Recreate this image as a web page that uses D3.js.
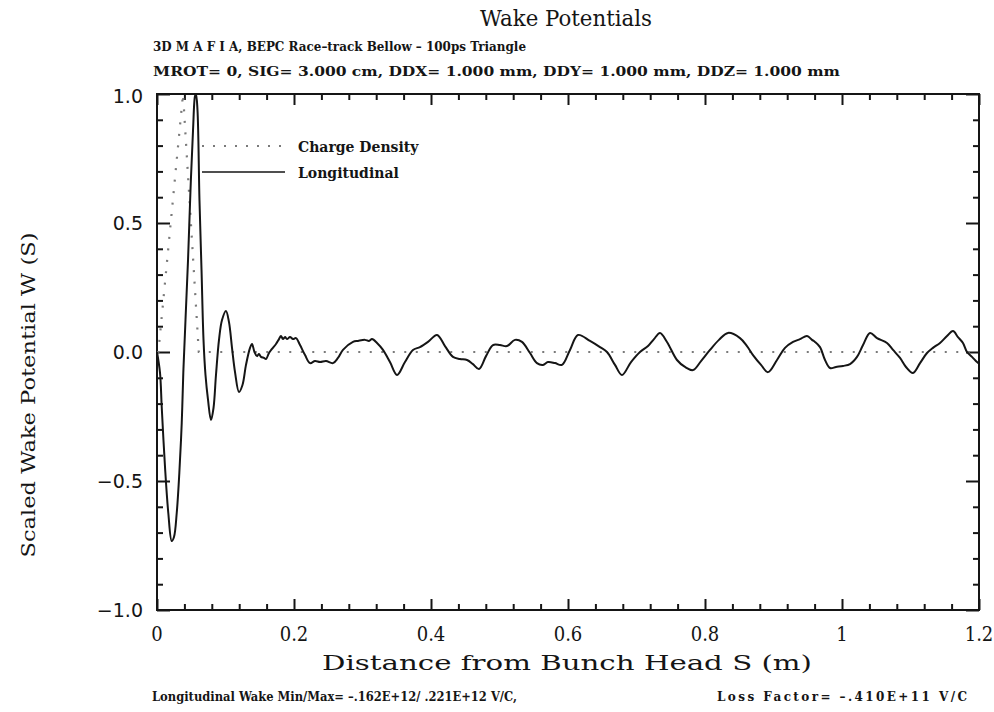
<!DOCTYPE html>
<html>
<head>
<meta charset="utf-8">
<script src="https://cdn.jsdelivr.net/npm/d3@7"></script>
<style>
  html, body { margin: 0; padding: 0; background: #fff; }
  svg { display: block; }
</style>
</head>
<body>
<svg id="chart" width="994" height="712"></svg>
<script>
// Longitudinal wake potential, scaled to its maximum (S in metres)
const wakeS = [0, 0.0044, 0.0069, 0.0117, 0.0165, 0.0215, 0.0248, 0.0288, 0.0326, 0.0361, 0.0384,
  0.0416, 0.0453, 0.0489, 0.0526, 0.0555, 0.0569, 0.0591, 0.062, 0.065, 0.0679, 0.0708, 0.0745,
  0.0788, 0.0825, 0.0861, 0.0905, 0.0949, 0.1007, 0.1051, 0.1095, 0.1139, 0.1197, 0.1248, 0.1299,
  0.1358, 0.1387, 0.1423, 0.146, 0.1489, 0.1518, 0.1562, 0.1591, 0.1635, 0.1679, 0.1737, 0.1781,
  0.181, 0.1839, 0.1869, 0.1898, 0.1942, 0.1985, 0.2029, 0.2088, 0.2161, 0.2234, 0.2307, 0.238,
  0.2467, 0.2569, 0.2642, 0.2715, 0.2861, 0.2934, 0.3036, 0.3095, 0.3139, 0.3212, 0.3299, 0.3401,
  0.3504, 0.362, 0.3737, 0.3839, 0.3956, 0.4088, 0.4204, 0.4321, 0.4423, 0.4526, 0.4613, 0.4701,
  0.4803, 0.4905, 0.5007, 0.5109, 0.5226, 0.5328, 0.5445, 0.5547, 0.5635, 0.5708, 0.581, 0.5912,
  0.6029, 0.6146, 0.6321, 0.6467, 0.6569, 0.6686, 0.6788, 0.692, 0.7051, 0.7168, 0.7255, 0.7343,
  0.7445, 0.7591, 0.7708, 0.7825, 0.7942, 0.8073, 0.8204, 0.8336, 0.8511, 0.8613, 0.8701, 0.8818,
  0.892, 0.9051, 0.9168, 0.9285, 0.9387, 0.9489, 0.9562, 0.9606, 0.9679, 0.9752, 0.9825, 0.9912,
  1.0015, 1.0117, 1.0219, 1.0307, 1.0409, 1.0511, 1.0657, 1.0745, 1.0847, 1.0934, 1.1036, 1.1139,
  1.1241, 1.1328, 1.1431, 1.1533, 1.162, 1.1693, 1.1766, 1.1825, 1.1898, 1.1971, 1.2];
const wakeW = [0, -0.081, -0.213, -0.446, -0.624, -0.733, -0.717, -0.624, -0.469, -0.275, -0.081,
  0.124, 0.357, 0.628, 0.86, 0.992, 1.0, 0.938, 0.589, 0.318, 0.047, -0.089, -0.186,
  -0.264, -0.217, -0.089, 0.047, 0.124, 0.159, 0.116, 0.016, -0.078, -0.155, -0.128, -0.05,
  0.016, 0.031, 0.0, -0.016, -0.008, -0.019, -0.023, -0.027, -0.004, 0.012, 0.031, 0.05,
  0.062, 0.05, 0.058, 0.05, 0.058, 0.05, 0.054, 0.027, -0.012, -0.043, -0.035, -0.039,
  -0.035, -0.043, -0.023, 0.008, 0.039, 0.043, 0.047, 0.043, 0.05, 0.035, 0.008, -0.039,
  -0.089, -0.039, 0.008, 0.019, 0.039, 0.066, 0.023, -0.019, -0.027, -0.031, -0.047, -0.066,
  -0.016, 0.027, 0.027, 0.023, 0.047, 0.039, -0.004, -0.043, -0.05, -0.039, -0.043, -0.05,
  0.008, 0.066, 0.043, 0.019, 0.0, -0.05, -0.089, -0.039, 0.0, 0.023, 0.05, 0.074,
  0.039, -0.031, -0.058, -0.07, -0.035, 0.008, 0.047, 0.074, 0.054, 0.023, -0.012, -0.05,
  -0.078, -0.031, 0.016, 0.039, 0.05, 0.062, 0.047, 0.039, 0.019, -0.031, -0.062, -0.058,
  -0.054, -0.047, -0.019, 0.027, 0.074, 0.054, 0.035, 0.008, -0.023, -0.058, -0.081, -0.043,
  -0.004, 0.016, 0.035, 0.062, 0.081, 0.058, 0.035, 0.0, -0.019, -0.039, -0.045];

// Triangular bunch charge density (scaled)
const chargeS = [0, 0.002, 0.038, 0.061, 1.2];
const chargeW = [0, 0, 1, 0, 0];

// Axis ticks
const xMajorTicks = [0, 0.2, 0.4, 0.6, 0.8, 1, 1.2];
const xMinorTicks = [0.04, 0.08, 0.12, 0.16, 0.24, 0.28, 0.32, 0.36, 0.44, 0.48, 0.52, 0.56,
  0.64, 0.68, 0.72, 0.76, 0.84, 0.88, 0.92, 0.96, 1.04, 1.08, 1.12, 1.16];
const xTickLabels = ["0", "0.2", "0.4", "0.6", "0.8", "1", "1.2"];
const yMajorTicks = [-1, -0.5, 0, 0.5, 1];
const yMinorTicks = [-0.9, -0.8, -0.7, -0.6, -0.4, -0.3, -0.2, -0.1,
  0.1, 0.2, 0.3, 0.4, 0.6, 0.7, 0.8, 0.9];
const yTickLabels = ["\u22121.0", "\u22120.5", "0.0", "0.5", "1.0"];

const titleText = "Wake Potentials";
const subtitle1 = "3D M A F I A,  BEPC Race\u2013track Bellow \u2013 100ps  Triangle";
const subtitle2 = "MROT= 0,  SIG= 3.000 cm,  DDX= 1.000 mm,  DDY= 1.000 mm,  DDZ= 1.000 mm";
const xTitle = "Distance from Bunch Head S (m)";
const yTitle = "Scaled Wake Potential W (S)";
const footLeft = "Longitudinal Wake  Min/Max=  \u2013.162E+12/  .221E+12 V/C,";
const footRight = "Loss Factor=  \u2013.410E+11 V/C";
const legendLabels = ["Charge Density", "Longitudinal"];

const SERIF = "'DejaVu Serif', 'Liberation Serif', serif";
const SANS = "'DejaVu Sans', 'Liberation Sans', sans-serif";
const ink = "#151515";

const svg = d3.select("#chart");
const frame = { left: 157, right: 979, top: 94, bottom: 610 };
const x = d3.scaleLinear().domain([0, 1.2]).range([frame.left, frame.right]);
const y = d3.scaleLinear().domain([-1, 1]).range([frame.bottom, frame.top]);

function txt(sel, opts) {
  const t = sel.append("text")
    .attr("font-family", opts.family || SERIF)
    .attr("font-size", opts.size)
    .attr("fill", ink)
    .attr("x", opts.x).attr("y", opts.y);
  if (opts.anchor) t.attr("text-anchor", opts.anchor);
  if (opts.bold) t.attr("font-weight", "bold");
  if (opts.length) t.attr("textLength", opts.length)
    .attr("lengthAdjust", opts.adjust || "spacingAndGlyphs");
  if (opts.transform) t.attr("transform", opts.transform);
  return t.text(opts.text);
}

// Titles
txt(svg, { x: 566, y: 26, anchor: "middle", size: 23, length: 172, text: titleText });
txt(svg, { x: 153, y: 51, size: 12.5, bold: true, length: 373, text: subtitle1 });
txt(svg, { x: 153, y: 76, size: 12.5, bold: true, length: 687, text: subtitle2 });

// Frame
svg.append("rect")
  .attr("x", frame.left).attr("y", frame.top)
  .attr("width", frame.right - frame.left).attr("height", frame.bottom - frame.top)
  .attr("fill", "none").attr("stroke", ink).attr("stroke-width", 2);

// Inward ticks on all four sides (labels are placed separately)
function tickAxis(axisFn, scale, values, size, transform) {
  svg.append("g")
    .attr("transform", transform)
    .call(axisFn(scale).tickValues(values).tickSize(size))
    .call(a => a.select(".domain").remove())
    .call(a => a.selectAll(".tick text").remove())
    .call(a => a.selectAll(".tick line").attr("stroke", ink).attr("stroke-width", 2));
}
tickAxis(d3.axisBottom, x, xMajorTicks, -11, `translate(0,${frame.bottom})`);
tickAxis(d3.axisBottom, x, xMinorTicks, -6, `translate(0,${frame.bottom})`);
tickAxis(d3.axisTop, x, xMajorTicks, -11, `translate(0,${frame.top})`);
tickAxis(d3.axisTop, x, xMinorTicks, -6, `translate(0,${frame.top})`);
tickAxis(d3.axisLeft, y, yMajorTicks, -13, `translate(${frame.left},0)`);
tickAxis(d3.axisLeft, y, yMinorTicks, -6, `translate(${frame.left},0)`);
tickAxis(d3.axisRight, y, yMajorTicks, -13, `translate(${frame.right},0)`);
tickAxis(d3.axisRight, y, yMinorTicks, -6, `translate(${frame.right},0)`);

// Tick labels
const xl = svg.append("g");
xMajorTicks.forEach((d, i) => {
  txt(xl, { x: x(d), y: 641, anchor: "middle", size: 20, text: xTickLabels[i] })
    .attr("font-stretch", "condensed");
});
const yl = svg.append("g");
yMajorTicks.forEach((d, i) => {
  txt(yl, { x: 143, y: y(d) + 7 + (d === 1 ? 2 : 0), anchor: "end", size: 19,
    family: SANS, text: yTickLabels[i] });
});

// Axis titles
txt(svg, { x: 567, y: 670, anchor: "middle", size: 21, length: 490, text: xTitle });
txt(svg, { x: 0, y: 0, anchor: "middle", size: 19, length: 325, text: yTitle,
  transform: "translate(35,395) rotate(-90)" });

// Footer
txt(svg, { x: 152, y: 701, size: 12, bold: true, length: 365, text: footLeft });
txt(svg, { x: 717, y: 701, size: 12, bold: true, length: 250, adjust: "spacing", text: footRight });

// Curves
const plot = svg.append("g");
const chargeLine = d3.line().x((d, i) => x(chargeS[i])).y(d => y(d));
plot.append("path").datum(chargeW)
  .attr("d", chargeLine)
  .attr("fill", "none").attr("stroke", "#7a7a7a").attr("stroke-width", 2.2)
  .attr("stroke-dasharray", "2,9.5");

const wakeLine = d3.line().x((d, i) => x(wakeS[i])).y(d => y(d))
  .curve(d3.curveCatmullRom.alpha(0.5));
plot.append("path").datum(wakeW)
  .attr("d", wakeLine)
  .attr("fill", "none").attr("stroke", ink).attr("stroke-width", 2)
  .attr("stroke-linejoin", "round");

// Legend
const legend = svg.append("g");
legend.append("line").attr("x1", 202).attr("x2", 285).attr("y1", 146).attr("y2", 146)
  .attr("stroke", "#7a7a7a").attr("stroke-width", 2.2).attr("stroke-dasharray", "2,9");
legend.append("line").attr("x1", 202).attr("x2", 285).attr("y1", 172).attr("y2", 172)
  .attr("stroke", ink).attr("stroke-width", 1.5);
legendLabels.forEach((d, i) => {
  txt(legend, { x: 298, y: 152 + i * 26, size: 14, bold: true, text: d });
});
</script>
</body>
</html>
